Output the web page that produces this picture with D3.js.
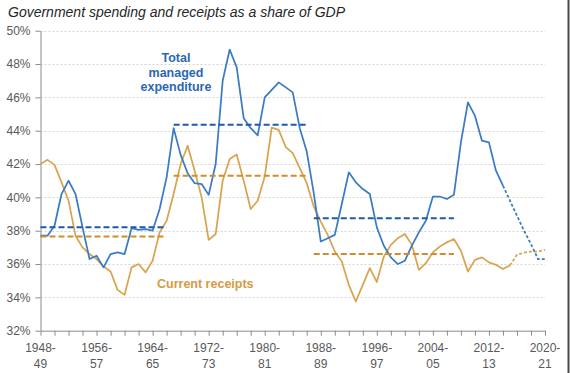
<!DOCTYPE html>
<html>
<head>
<meta charset="utf-8">
<script src="https://cdn.jsdelivr.net/npm/d3@7"></script>
<style>
  html, body { margin: 0; padding: 0; background: #fff; }
  svg { display: block; font-family: "Liberation Sans", Arial, sans-serif; }
</style>
</head>
<body>
<svg id="chart" width="570" height="373"></svg>
<script>
// ---------- DATA ----------
const firstYear = 1948;
const lastYear = 2020;
const categories = d3.range(firstYear, lastYear + 1).map(y => `${y}-${String((y + 1) % 100).padStart(2, "0")}`);

const tickLabels = ["1948-49", "1956-57", "1964-65", "1972-73", "1980-81", "1988-89", "1996-97", "2004-05", "2012-13", "2020-21"];
const yTicks = [32, 34, 36, 38, 40, 42, 44, 46, 48, 50];

// Total managed expenditure, % of GDP (1948-49 .. 2020-21)
const tme = [
  37.7, 37.7, 38.3, 40.2, 41.0, 40.2, 38.2, 36.3, 36.5, 35.8,
  36.6, 36.7, 36.6, 38.15, 38.05, 38.1, 38.0, 39.3, 41.2, 44.15,
  42.55, 41.45, 40.85, 40.8, 40.15, 42.0, 47.0, 48.87, 47.8, 44.75,
  44.15, 43.72, 46.0, 46.45, 46.9, 46.6, 46.3, 44.15, 42.75, 40.25,
  37.35, 37.55, 37.75, 39.6, 41.5, 40.9, 40.5, 40.2, 38.2, 37.1,
  36.4, 36.0, 36.2, 37.1, 37.9, 38.6, 40.05, 40.05, 39.9, 40.15,
  43.3, 45.7, 44.9, 43.4, 43.3, 41.6, 40.7, 39.8, 38.9, 38.0,
  37.2, 36.3, 36.3
];

// Current receipts, % of GDP (1948-49 .. 2020-21)
const receipts = [
  42.0, 42.25, 41.95, 40.9, 39.8, 37.7, 37.0, 36.6, 36.3, 35.85,
  35.55, 34.45, 34.15, 35.8, 36.0, 35.5, 36.2, 37.9, 38.6, 40.2,
  42.0, 43.1, 41.6, 40.0, 37.45, 37.8, 41.0, 42.3, 42.57, 41.0,
  39.3, 39.8, 41.25, 44.18, 44.05, 43.02, 42.65, 41.75, 40.85, 39.45,
  38.55, 37.75, 36.75, 36.15, 34.75, 33.75, 34.75, 35.75, 34.92, 36.45,
  37.15, 37.55, 37.8, 37.15, 35.65, 36.05, 36.7, 37.05, 37.3, 37.5,
  36.8, 35.55, 36.25, 36.4, 36.1, 35.95, 35.7, 35.92, 36.55, 36.68,
  36.75, 36.75, 36.85
];

// Forecasts (dashed) start at these years
const tmeForecastFrom = "2014-15";
const receiptsForecastFrom = "2015-16";

// Period averages
const periodStarts = ["1948-49", "1967-68", "1987-88"];
const periodEnds   = ["1966-67", "1986-87", "2007-08"];
const tmeAverages      = [38.2, 44.35, 38.75];
const receiptsAverages = [37.65, 41.3, 36.6];

const titleText = "Government spending and receipts as a share of GDP";
const tmeLabel = ["Total", "managed", "expenditure"];
const receiptsLabel = "Current receipts";

// ---------- STYLE ----------
const C = {
  tme: "#3a7cc3",
  tmeAvg: "#1f5aa8",
  tmeText: "#2b68b3",
  rec: "#d9a44f",
  recAvg: "#cf8d2c",
  recText: "#d49b45",
  grid: "#d4d4d4",
  axis: "#8c8c8c",
  tick: "#595959",
  title: "#262626"
};

// ---------- CHART ----------
const svg = d3.select("#chart");

const x = d3.scalePoint().domain(categories).range([40.5, 545]);
const y = d3.scaleLinear().domain([32, 50]).range([330.7, 30.7]);

// title
svg.append("text")
  .attr("x", 8).attr("y", 17)
  .attr("font-size", 14).attr("font-style", "italic")
  .attr("fill", C.title)
  .text(titleText);

// gridlines
svg.append("g").selectAll("line")
  .data(yTicks.filter(d => d > 32))
  .join("line")
  .attr("x1", x(categories[0])).attr("x2", x(categories[categories.length - 1]))
  .attr("y1", d => Math.round(y(d)) + 0.5).attr("y2", d => Math.round(y(d)) + 0.5)
  .attr("stroke", C.grid).attr("stroke-width", 1)
  .attr("stroke-dasharray", "2,2");

// y axis
const yAxis = svg.append("g")
  .attr("transform", `translate(${x(categories[0])},0)`)
  .call(d3.axisLeft(y).tickValues(yTicks).tickFormat(d => d + "%").tickSize(5).tickPadding(5).tickSizeOuter(0));
yAxis.select(".domain").attr("stroke", C.axis);
yAxis.selectAll(".tick line").attr("stroke", C.axis);
yAxis.selectAll(".tick text")
  .attr("font-size", 12).attr("fill", C.tick)
  .attr("font-family", "Liberation Sans, Arial, sans-serif");

// x axis
const xTickCats = categories.filter((d, i) => i % 2 === 0);
const xAxis = svg.append("g")
  .attr("transform", `translate(0,${y(32)})`)
  .call(d3.axisBottom(x).tickValues(xTickCats).tickFormat("").tickSize(5).tickSizeOuter(0));
xAxis.select(".domain").attr("stroke", C.axis);
xAxis.selectAll(".tick line").attr("stroke", C.axis);

const xl = svg.append("g").selectAll("text")
  .data(tickLabels)
  .join("text")
  .attr("text-anchor", "middle")
  .attr("font-size", 12).attr("fill", C.tick);
xl.append("tspan")
  .attr("x", d => x(d)).attr("y", y(32) + 21)
  .text(d => d.split("-")[0] + "-");
xl.append("tspan")
  .attr("x", d => x(d)).attr("y", y(32) + 37)
  .text(d => d.split("-")[1]);

// series lines
const line = d3.line()
  .x(d => x(d.cat))
  .y(d => y(d.v));

function drawSeries(values, forecastFrom, color) {
  const pts = values.map((v, i) => ({ cat: categories[i], v }));
  const k = categories.indexOf(forecastFrom);
  svg.append("path")
    .datum(pts.slice(0, k + 1))
    .attr("d", line)
    .attr("fill", "none").attr("stroke", color)
    .attr("stroke-width", 1.75).attr("stroke-linejoin", "round");
  svg.append("path")
    .datum(pts.slice(k))
    .attr("d", line)
    .attr("fill", "none").attr("stroke", color)
    .attr("stroke-width", 1.75).attr("stroke-dasharray", "3,2");
}

drawSeries(receipts, receiptsForecastFrom, C.rec);
drawSeries(tme, tmeForecastFrom, C.tme);

// averages
function drawAverages(avgs, color) {
  svg.append("g").selectAll("line")
    .data(avgs.map((v, i) => ({ v, s: periodStarts[i], e: periodEnds[i] })))
    .join("line")
    .attr("x1", d => x(d.s)).attr("x2", d => x(d.e))
    .attr("y1", d => y(d.v)).attr("y2", d => y(d.v))
    .attr("stroke", color).attr("stroke-width", 2)
    .attr("stroke-dasharray", "6,3");
}
drawAverages(receiptsAverages, C.recAvg);
drawAverages(tmeAverages, C.tmeAvg);

// labels
svg.append("text")
  .attr("text-anchor", "middle")
  .attr("font-size", 12.5).attr("font-weight", "bold")
  .attr("fill", C.tmeText)
  .selectAll("tspan")
  .data(tmeLabel)
  .join("tspan")
  .attr("x", 176).attr("y", (d, i) => 62 + i * 14.5)
  .text(d => d);

svg.append("text")
  .attr("x", 157).attr("y", 288)
  .attr("font-size", 12.5).attr("font-weight", "bold")
  .attr("fill", C.recText)
  .text(receiptsLabel);

// right frame edge
svg.append("line")
  .attr("x1", 568.5).attr("x2", 568.5).attr("y1", 0).attr("y2", 373)
  .attr("stroke", "#4a4a4a").attr("stroke-width", 2);
</script>
</body>
</html>
